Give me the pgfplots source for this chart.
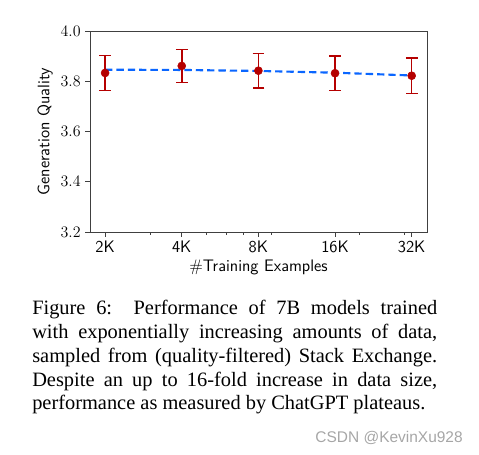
\documentclass[border=0pt]{standalone}
\usepackage{fontspec}
\setmainfont{Liberation Serif}
\usepackage{pgfplots}
\pgfplotsset{compat=1.18}
\usepackage{pgfplotstable}
\definecolor{ebred}{HTML}{B50000}
\definecolor{fitblue}{HTML}{0A66FF}
\definecolor{spine}{HTML}{404040}
\pgfplotstableread{
x y e
2000 3.833 0.070
4000 3.861 0.066
8000 3.842 0.069
16000 3.832 0.069
32000 3.822 0.071
}\points
\pgfplotstableread{
x y
2000 3.846
4000 3.845
8000 3.841
16000 3.834
32000 3.823
}\fit
\newcommand\capline[1]{\makebox[303.75pt][s]{#1}}
\begin{document}
\begin{tikzpicture}
\useasboundingbox (0,0) rectangle (359.25pt,340.5pt);
\begin{axis}[
  at={(67.5pt,166.5pt)}, anchor=south west,
  scale only axis, width=252.75pt, height=150.75pt,
  xmode=log,
  xmin=1745, xmax=36760,
  ymin=3.2, ymax=4.0,
  xtick={2000,4000,8000,16000,32000},
  xticklabels={2K,4K,8K,16K,32K},
  minor xtick={3000,5000,6000,7000,9000,20000,30000},
  ytick={3.2,3.4,3.6,3.8,4.0},
  yticklabel style={/pgf/number format/fixed,/pgf/number format/fixed zerofill,/pgf/number format/precision=1},
  tick align=outside,
  xtick pos=bottom, ytick pos=left,
  major tick length=3.5pt, minor tick length=2pt,
  tick style={spine, line width=0.6pt},
  axis line style={spine, line width=0.6pt},
  ticklabel style={font=\fontsize{12.5}{14}\selectfont},
  xticklabel style={font=\fontsize{12.5}{14}\selectfont\sffamily},
  xlabel={\#Training Examples},
  ylabel={Generation Quality},
  label style={font=\fontsize{12.5}{14}\selectfont\sffamily},
  xlabel style={yshift=2pt},
  ylabel style={yshift=-1pt},
]
\addplot[fitblue, line width=1.6pt, dash pattern=on 5.5pt off 3pt] table[x=x,y=y]{\fit};
\addplot[ebred, only marks, mark=*, mark size=3pt,
  error bars/.cd, y dir=both, y explicit,
  error bar style={line width=1.2pt, ebred},
  error mark options={rotate=90, mark size=4.4pt, line width=1.2pt, ebred}]
  table[x=x,y=y,y error=e]{\points};
\end{axis}
\node[anchor=north west, align=left, inner sep=0pt,
  font=\fontsize{15.3}{17.8}\selectfont] at (24pt,115.3pt)
  {\capline{Figure 6:\ \ Performance of 7B models trained}\\
   \capline{with exponentially increasing amounts of data,}\\
   \capline{sampled from (quality-filtered) Stack Exchange.}\\
   \capline{Despite an up to 16-fold increase in data size,}\\
   performance as measured by ChatGPT plateaus.};
\node[anchor=east, inner sep=0pt, text=gray!70, font=\fontsize{11.6}{13}\fontspec{Liberation Sans}\selectfont] at (347.25pt,12pt) {CSDN @KevinXu928};
\end{tikzpicture}
\end{document}
